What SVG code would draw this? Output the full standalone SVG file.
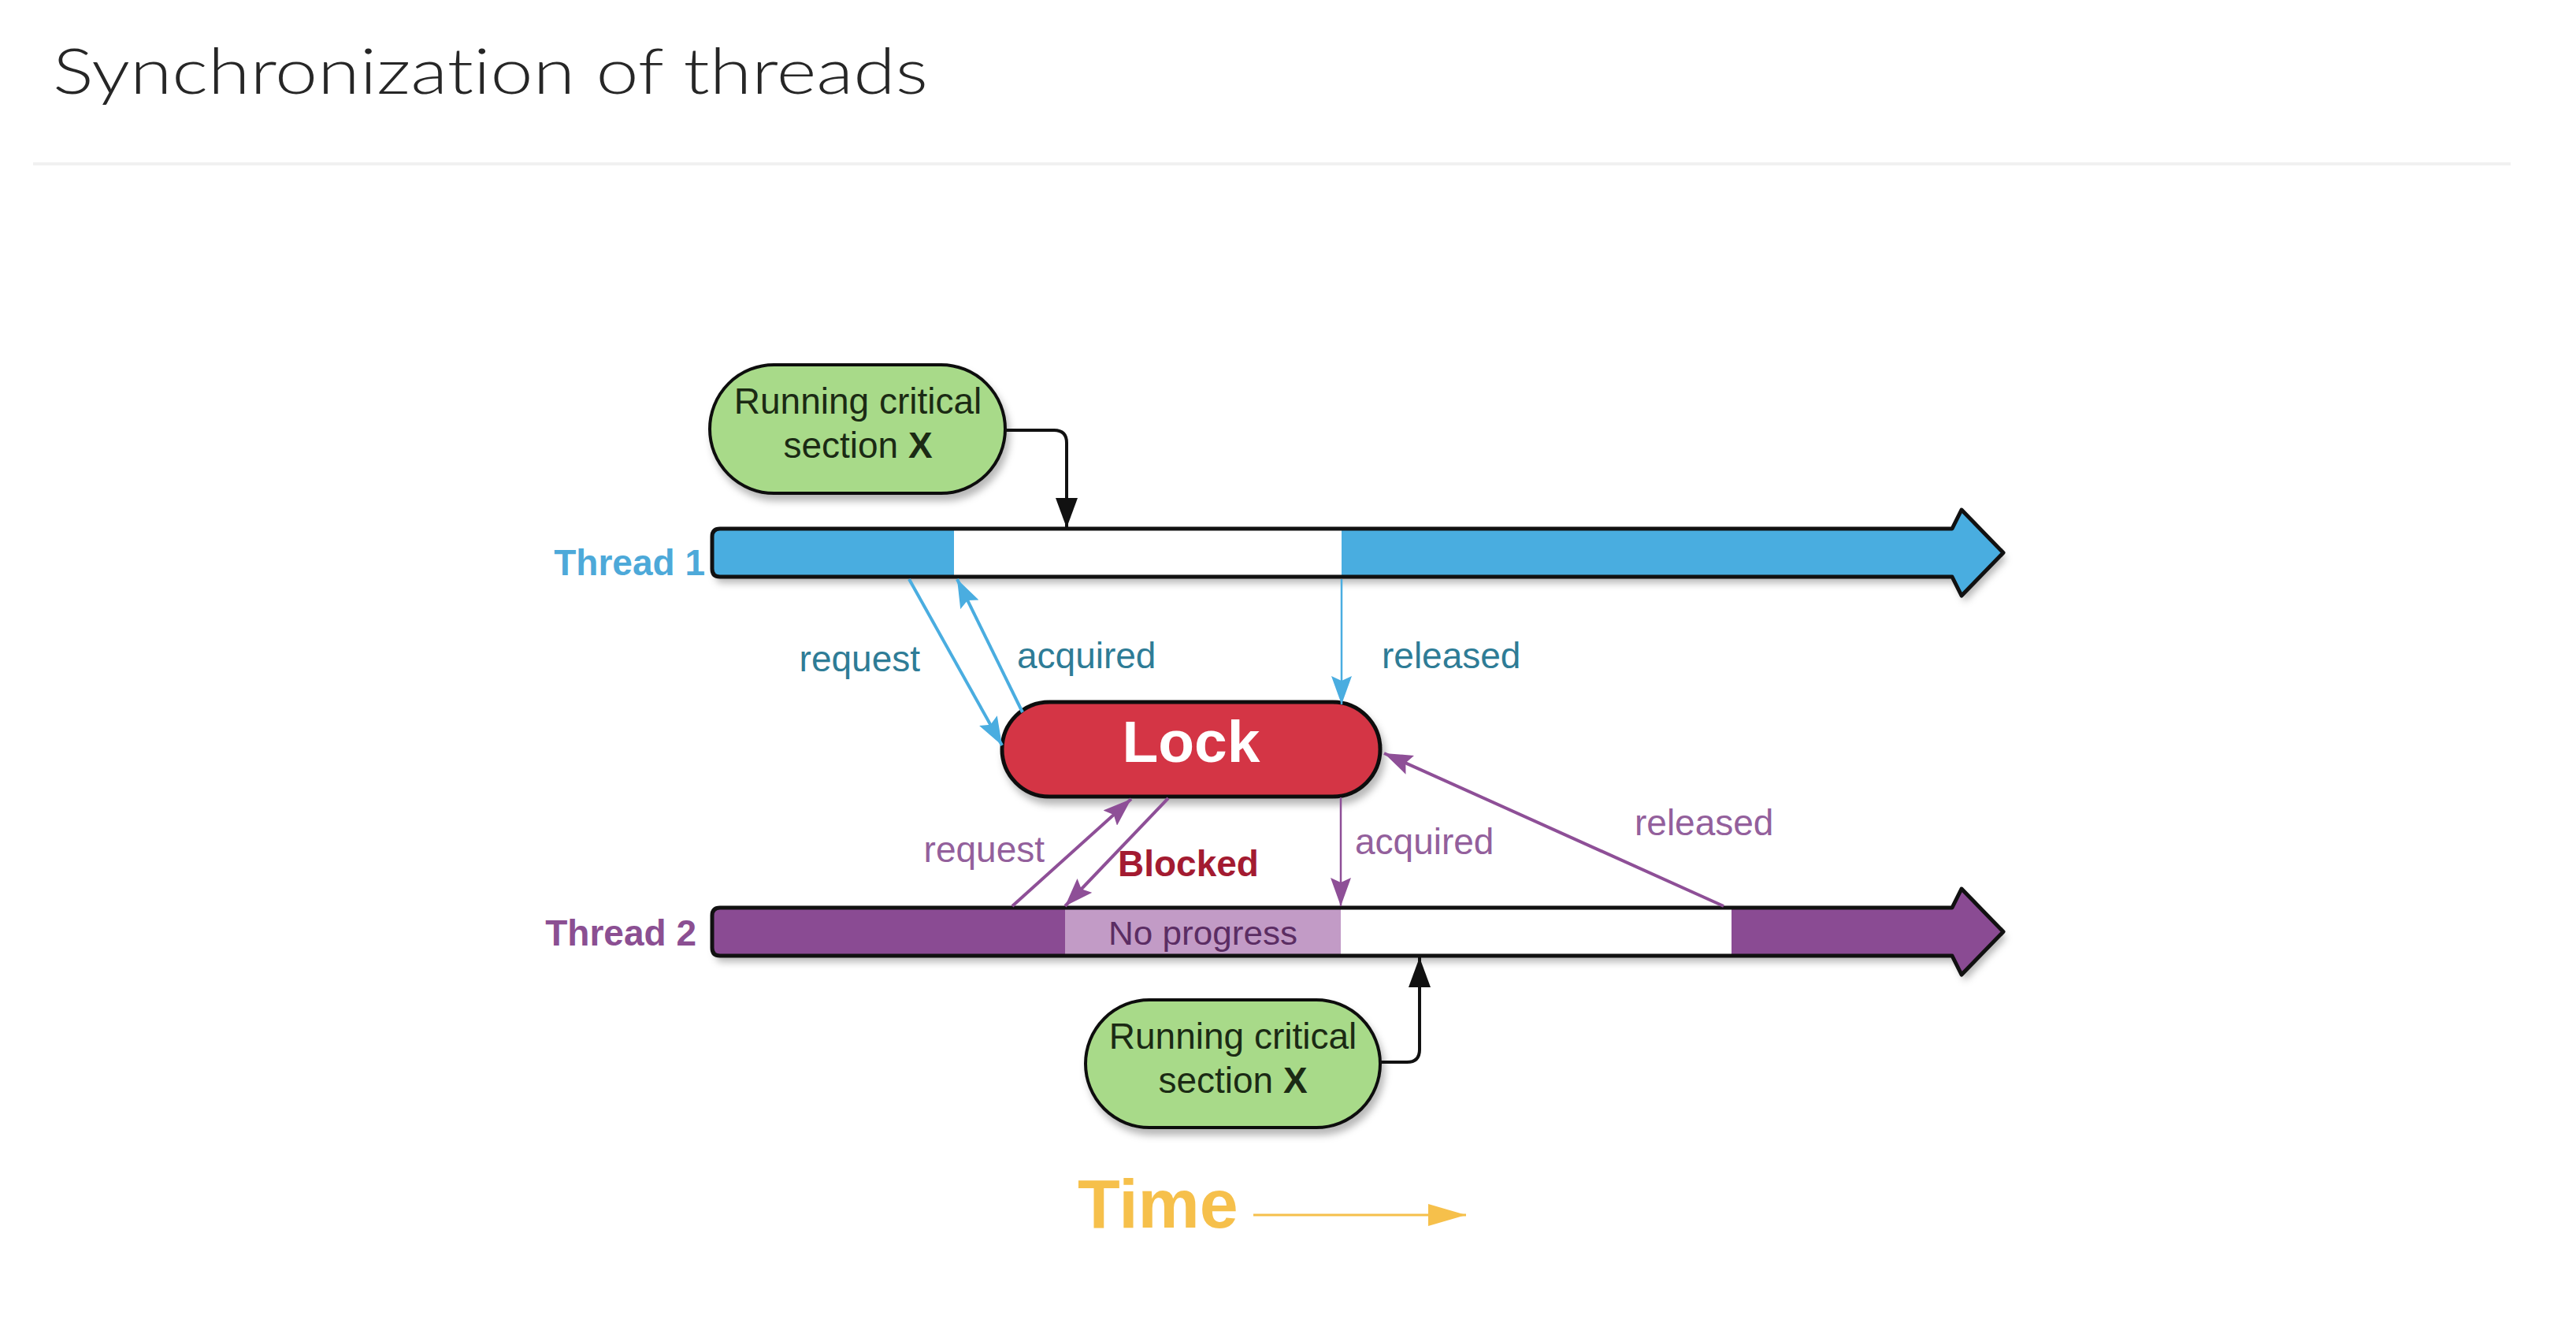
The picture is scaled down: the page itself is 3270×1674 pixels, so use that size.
<svg xmlns="http://www.w3.org/2000/svg" width="3270" height="1674" viewBox="0 0 3270 1674">
<style>
.lbl{font-family:"Liberation Sans",Arial,sans-serif;font-size:46px}
.blue{fill:#2E7C96}
.purp{fill:#93609C}
.node-text{font-family:"Liberation Sans",Arial,sans-serif;font-size:46px;fill:#1B2A14;text-anchor:middle}
.outline{fill:none;stroke:#111;stroke-width:5;stroke-linejoin:round}
.bl{stroke:#4AADE0;fill:none}
.pl{stroke:#8E4F97;fill:none}
.bk{stroke:#111;fill:none;stroke-width:4}
</style>
<defs>
<filter id="sh" x="-10%" y="-30%" width="130%" height="180%">
<feDropShadow dx="4" dy="8" stdDeviation="5" flood-color="#000" flood-opacity="0.28"/>
</filter>
<marker id="ab" viewBox="0 0 36 26" markerWidth="36" markerHeight="26" refX="36" refY="13" orient="auto" markerUnits="userSpaceOnUse"><path d="M0,0 L36,13 L0,26 L6,13 Z" fill="#4AADE0"/></marker>
<marker id="ap" viewBox="0 0 36 26" markerWidth="36" markerHeight="26" refX="36" refY="13" orient="auto" markerUnits="userSpaceOnUse"><path d="M0,0 L36,13 L0,26 L6,13 Z" fill="#8E4F97"/></marker>
<marker id="ak" viewBox="0 0 38 28" markerWidth="38" markerHeight="28" refX="38" refY="14" orient="auto" markerUnits="userSpaceOnUse"><path d="M0,0 L38,14 L0,28 Z" fill="#111"/></marker>
<marker id="ay" viewBox="0 0 48 28" markerWidth="48" markerHeight="28" refX="48" refY="14" orient="auto" markerUnits="userSpaceOnUse"><path d="M0,0 L48,14 L0,28 Z" fill="#F6C04B"/></marker>
<clipPath id="c1"><path d="M914,671 H2478 L2490,647 L2543,701.5 L2490,756 L2478,732 H914 Q904,732 904,722 V681 Q904,671 914,671 Z"/></clipPath>
<clipPath id="c2"><path d="M914,1152 H2478 L2490,1128 L2543,1182.5 L2490,1237 L2478,1213 H914 Q904,1213 904,1203 V1162 Q904,1152 914,1152 Z"/></clipPath>
</defs>
<rect width="3270" height="1674" fill="#fff"/>
<g id="title">
<text x="67" y="119" font-family="Lato,'Open Sans',sans-serif" font-weight="300" font-size="80" fill="#262626" textLength="1111" lengthAdjust="spacingAndGlyphs" style="font-variant-ligatures:none">Synchronization of threads</text>
<rect x="42" y="206" width="3145" height="4" fill="#F1F1F1"/>
</g>
<g id="thread1">
<g filter="url(#sh)">
<g clip-path="url(#c1)">
<rect x="900" y="640" width="311" height="120" fill="#4AADE0"/>
<rect x="1211" y="640" width="492" height="120" fill="#FFFFFF"/>
<rect x="1703" y="640" width="850" height="120" fill="#4AADE0"/>
</g>
</g>
<path class="outline" d="M914,671 H2478 L2490,647 L2543,701.5 L2490,756 L2478,732 H914 Q904,732 904,722 V681 Q904,671 914,671 Z"/>
<text x="895" y="730" class="lbl" font-weight="bold" fill="#4DA9D9" text-anchor="end">Thread 1</text>
</g>
<g id="thread2">
<g filter="url(#sh)">
<g clip-path="url(#c2)">
<rect x="900" y="1120" width="452" height="125" fill="#8A4B93"/>
<rect x="1352" y="1120" width="350" height="125" fill="#C29BC6"/>
<rect x="1702" y="1120" width="496" height="125" fill="#FFFFFF"/>
<rect x="2198" y="1120" width="355" height="125" fill="#8A4B93"/>
</g>
</g>
<path class="outline" d="M914,1152 H2478 L2490,1128 L2543,1182.5 L2490,1237 L2478,1213 H914 Q904,1213 904,1203 V1162 Q904,1152 914,1152 Z"/>
<text x="884" y="1200" class="lbl" font-weight="bold" fill="#8B4F92" text-anchor="end">Thread 2</text>
<text x="1527" y="1199" font-family="'Liberation Sans',Arial,sans-serif" font-size="42" fill="#5B2D63" text-anchor="middle" textLength="240" lengthAdjust="spacingAndGlyphs">No progress</text>
</g>
<g id="lock">
<rect x="1272" y="891" width="480" height="120" rx="60" ry="60" fill="#D43545" stroke="#111" stroke-width="5" filter="url(#sh)"/>
<text x="1512" y="967" font-family="'Liberation Sans',Arial,sans-serif" font-size="75" font-weight="bold" fill="#FFFFFF" text-anchor="middle">Lock</text>
</g>
<g id="cs1">
<rect x="901" y="463" width="375" height="163" rx="81.5" ry="81.5" fill="#A8DA89" stroke="#111" stroke-width="4" filter="url(#sh)"/>
<text x="1089" y="525" class="node-text">Running critical</text>
<text x="1089" y="581" class="node-text">section <tspan font-weight="bold">X</tspan></text>
</g>
<g id="cs2">
<rect x="1378" y="1269" width="374" height="162" rx="81" ry="81" fill="#A8DA89" stroke="#111" stroke-width="4" filter="url(#sh)"/>
<text x="1565" y="1331" class="node-text">Running critical</text>
<text x="1565" y="1387" class="node-text">section <tspan font-weight="bold">X</tspan></text>
</g>
<g id="connectors">
<path class="bk" d="M1276,546 H1338 Q1354,546 1354,562 V670" marker-end="url(#ak)"/>
<path class="bk" d="M1752,1348 H1786 Q1802,1348 1802,1332 V1215" marker-end="url(#ak)"/>
<path class="bl" stroke-width="4" d="M1154,735 L1272,946" marker-end="url(#ab)"/>
<path class="bl" stroke-width="4" d="M1298,904 L1215,735" marker-end="url(#ab)"/>
<path class="bl" stroke-width="2.5" d="M1703,735 L1703,894" marker-end="url(#ab)"/>
<path class="pl" stroke-width="4" d="M1285,1150 L1436,1014" marker-end="url(#ap)"/>
<path class="pl" stroke-width="4" d="M1483,1013 L1352,1150" marker-end="url(#ap)"/>
<path class="pl" stroke-width="2.5" d="M1702,1012 L1702,1150" marker-end="url(#ap)"/>
<path class="pl" stroke-width="4" d="M2188,1150 L1757,956" marker-end="url(#ap)"/>
<text x="1168" y="852" class="lbl blue" text-anchor="end">request</text>
<text x="1291" y="848" class="lbl blue">acquired</text>
<text x="1754" y="848" class="lbl blue">released</text>
<text x="1326" y="1094" class="lbl purp" text-anchor="end">request</text>
<text x="1419" y="1112" class="lbl" font-weight="bold" fill="#A31B31">Blocked</text>
<text x="1720" y="1084" class="lbl purp">acquired</text>
<text x="2075" y="1060" class="lbl purp">released</text>
</g>
<g id="time">
<text x="1368" y="1558" font-family="'Liberation Sans',Arial,sans-serif" font-size="88" font-weight="bold" fill="#F6C04B">Time</text>
<path d="M1591,1542 H1861" stroke="#F6C04B" stroke-width="3" fill="none" marker-end="url(#ay)"/>
</g>
</svg>
